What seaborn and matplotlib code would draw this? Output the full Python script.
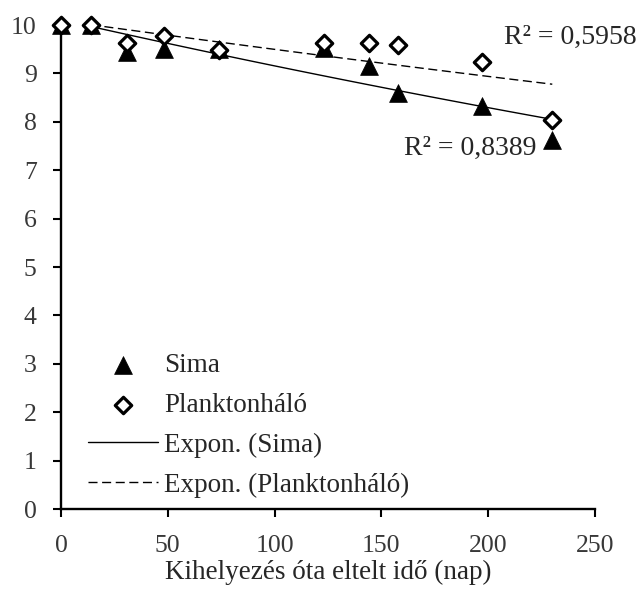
import numpy as np
import pandas as pd
import matplotlib
matplotlib.use("Agg")
import matplotlib.pyplot as plt
import seaborn as sns

days = [0, 14, 31, 48, 74, 123, 144, 158, 197, 230]
sima = [10.0, 10.0, 9.45, 9.5, 9.5, 9.52, 9.15, 8.6, 8.33, 7.63]
plankton = [10.0, 10.0, 9.63, 9.78, 9.49, 9.63, 9.63, 9.59, 9.23, 8.04]
series_names = ["Sima", "Planktonháló"]
trend_names = ["Expon. (Sima)", "Expon. (Planktonháló)"]
r2_labels = ["R² = 0,8389", "R² = 0,5958"]
x_ticks = [0, 50, 100, 150, 200, 250]
y_ticks = list(range(0, 11))
x_label = "Kihelyezés óta eltelt idő (nap)"


def expfit(x, y):
    x = np.asarray(x, float)
    ly = np.log(np.asarray(y, float))
    b, a = np.polyfit(x, ly, 1)
    return a, b


sns.set_theme(style="ticks")
plt.rcParams["font.family"] = ["Liberation Serif", "DejaVu Serif"]

TXT = "#262626"
fig = plt.figure(figsize=(6.4, 6.0), dpi=100)
ax = fig.add_axes([61 / 640, 1 - 509 / 600, 534 / 640, 484 / 600])

styles = [(None, 1.0), ((6.5, 3.3), 1.0)]
for name, tname, vals, (dash, lw) in zip(series_names, trend_names, [sima, plankton], styles):
    a, b = expfit(days, vals)
    xs = np.linspace(days[1], days[-1], 100)
    line_kw = dict(color="black", lw=lw, label=tname, zorder=2)
    sns.lineplot(x=xs, y=np.exp(a + b * xs), ax=ax, **line_kw)
    if dash is not None:
        ax.lines[-1].set_dashes(dash)

sns.scatterplot(x=days, y=sima, ax=ax, marker="^", s=165, color="black",
                edgecolor="black", linewidth=0.5, label=series_names[0], zorder=3,
                clip_on=False)
sns.scatterplot(x=days, y=plankton, ax=ax, marker="D", s=70, facecolor="white",
                edgecolor="black", linewidth=2.3, label=series_names[1], zorder=4,
                clip_on=False)

ax.set_xlim(0, 250)
ax.set_ylim(0, 10)
ax.set_xticks(x_ticks)
ax.set_yticks(y_ticks)
ax.set_xlabel(x_label, fontsize=19.5, color=TXT, labelpad=2)
ax.set_ylabel("")
ax.tick_params(axis="both", labelsize=18.5, colors="black", labelcolor="#383838",
               width=1.5, length=5.5)
ax.tick_params(axis="y", pad=12)
ax.tick_params(axis="x", pad=13.5)
for sp in ["left", "bottom"]:
    ax.spines[sp].set_linewidth(1.7)
    ax.spines[sp].set_color("black")
sns.despine(ax=ax)

h, l = ax.get_legend_handles_labels()
order = [l.index(n) for n in series_names + trend_names]
ax.legend([h[i] for i in order], [l[i] for i in order], loc="upper left",
          bbox_to_anchor=(88 / 640, 1 - 353 / 600), bbox_transform=fig.transFigure,
          frameon=False, fontsize=19.5, handlelength=2.6, borderpad=0,
          borderaxespad=0, labelspacing=0.55, handletextpad=0.2, labelcolor=TXT)

fig.text(637 / 640, 1 - 37 / 600, r2_labels[1], ha="right", va="center",
         fontsize=20, color=TXT)
fig.text(537 / 640, 1 - 148 / 600, r2_labels[0], ha="right", va="center",
         fontsize=20, color=TXT)

fig.savefig("out.png", dpi=100)
